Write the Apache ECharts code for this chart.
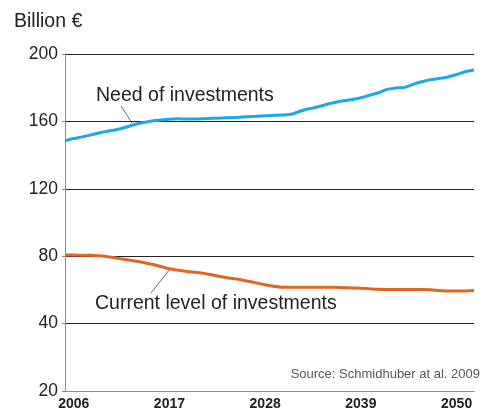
<!DOCTYPE html>
<html>
<head>
<meta charset="utf-8">
<style>
html,body{margin:0;padding:0;background:#fff;}
#chart{width:489px;height:412px;}
</style>
<script src="https://cdn.jsdelivr.net/npm/echarts@6/dist/echarts.min.js"></script>
</head>
<body>
<div id="chart"></div>
<script>
const years = [];
for (let y = 2005; y <= 2052; y++) years.push(String(y));

const needOfInvestments = [
  148.5, 149.8, 150.8, 152.0, 153.3, 154.3, 155.2, 156.5, 158.2, 159.3,
  160.3, 160.8, 161.3, 161.5, 161.4, 161.4, 161.6, 161.8, 162.0, 162.2,
  162.4, 162.7, 163.0, 163.4, 163.6, 163.8, 164.2, 166.0, 167.5, 168.5,
  170.0, 171.2, 172.2, 173.0, 174.0, 175.5, 177.0, 179.0, 179.8, 180.2,
  182.0, 183.5, 184.8, 185.5, 186.4, 187.8, 189.5, 190.5
];

const currentLevel = [
  80.7, 80.7, 80.6, 80.5, 80.3, 79.6, 78.8, 78.0, 77.2, 76.3,
  75.2, 73.9, 72.6, 71.7, 70.9, 70.4, 69.8, 68.8, 67.8, 66.9,
  66.2, 65.2, 64.1, 63.1, 62.2, 61.5, 61.5, 61.5, 61.5, 61.5,
  61.5, 61.5, 61.3, 61.2, 61.0, 60.7, 60.4, 60.3, 60.3, 60.3,
  60.3, 60.3, 60.1, 59.7, 59.3, 59.3, 59.4, 59.6
];

const xTickLabels = ['2006', '2017', '2028', '2039', '2050'];
const yTickValues = [0, 40, 80, 120, 160, 200];
const yTickLabels = ['20', '40', '80', '120', '160', '200'];

const FONT = 'Liberation Sans, Arial, sans-serif';
const chart = echarts.init(document.getElementById('chart'));
chart.setOption({
  animation: false,
  backgroundColor: '#fff',
  grid: { left: 65, right: 15, top: 54, bottom: 21, containLabel: false },
  xAxis: {
    type: 'category',
    data: years,
    boundaryGap: false,
    axisLine: { show: true, lineStyle: { color: '#8a8a8a', width: 1 } },
    axisTick: { show: false },
    splitLine: { show: false },
    axisLabel: {
      interval: function (idx, val) { return xTickLabels.indexOf(val) >= 0; },
      color: '#222', fontFamily: FONT, fontSize: 14, fontWeight: 'bold', margin: 6
    }
  },
  yAxis: {
    type: 'value',
    min: 0, max: 200, interval: 40,
    axisLine: { show: true, lineStyle: { color: '#8a8a8a', width: 1 } },
    axisTick: { show: true, length: 3, lineStyle: { color: '#8a8a8a' } },
    splitLine: { show: true, lineStyle: { color: ['#8a8a8a', '#222', '#222', '#222', '#222', '#222'], width: 1 } },
    axisLabel: {
      formatter: function (v) { const i = yTickValues.indexOf(v); return i >= 0 ? yTickLabels[i] : ''; },
      color: '#222', fontFamily: FONT, fontSize: 17.5, margin: 7
    }
  },
  series: [
    {
      name: 'Need of investments', type: 'line', data: needOfInvestments,
      smooth: 0.3, showSymbol: false,
      lineStyle: { color: '#1ba8e6', width: 3 }
    },
    {
      name: 'Current level of investments', type: 'line', data: currentLevel,
      smooth: 0.3, showSymbol: false,
      lineStyle: { color: '#e0661f', width: 3 }
    }
  ],
  graphic: [
    { type: 'text', left: 14, top: 12, style: { text: 'Billion €', font: '19.5px ' + FONT, fill: '#222' } },
    { type: 'text', left: 96, top: 86, style: { text: 'Need of investments', font: '19.5px ' + FONT, fill: '#222' } },
    { type: 'line', shape: { x1: 121, y1: 106, x2: 132, y2: 123 }, style: { stroke: '#444', lineWidth: 0.8 } },
    { type: 'text', left: 95, top: 294, style: { text: 'Current level of investments', font: '19.5px ' + FONT, fill: '#222' } },
    { type: 'line', shape: { x1: 151, y1: 293, x2: 170, y2: 269 }, style: { stroke: '#444', lineWidth: 0.8 } },
    { type: 'text', right: 9, top: 368, style: { text: 'Source: Schmidhuber at al. 2009', font: '13px ' + FONT, fill: '#555' } }
  ]
});
</script>
</body>
</html>
